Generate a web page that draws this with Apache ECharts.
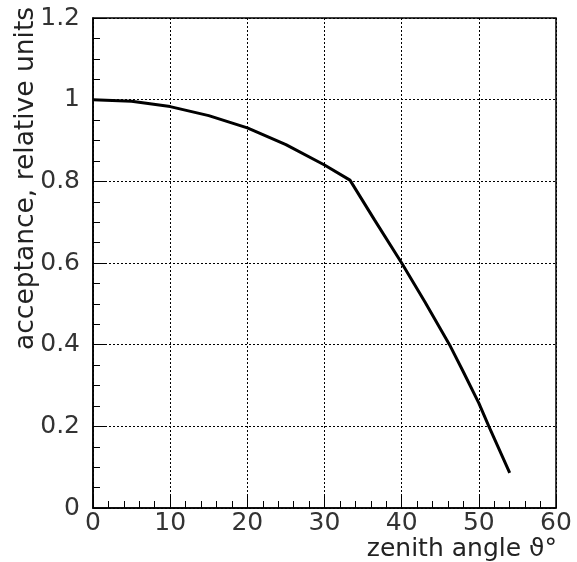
<!DOCTYPE html>
<html>
<head>
<meta charset="utf-8">
<script src="https://cdn.jsdelivr.net/npm/echarts@6/dist/echarts.min.js"></script>
<style>html,body{margin:0;padding:0;background:#fff;}#c{width:577px;height:562px;}</style>
</head>
<body>
<div id="c"></div>
<script>
var zenithAngle = [0, 5, 10, 15, 20, 25, 30, 33.3, 36.5, 40, 43, 46.2, 48, 50, 51.3, 54];
var acceptance  = [1.0, 0.996, 0.983, 0.961, 0.931, 0.890, 0.840, 0.803, 0.705, 0.600, 0.505, 0.400, 0.333, 0.257, 0.200, 0.086];
var xTitle = 'zenith angle \u03D1\u00B0';
var yTitle = 'acceptance, relative units';

var FONT = 'DejaVu Sans';
var chart = echarts.init(document.getElementById('c'), null, {renderer: 'canvas'});
var data = zenithAngle.map(function (x, i) { return [x, acceptance[i]]; });

chart.setOption({
  animation: false,
  backgroundColor: '#fff',
  grid: {left: 93, right: 21, top: 18, bottom: 54, show: true, borderColor: '#000', borderWidth: 1.5, backgroundColor: 'transparent'},
  xAxis: {
    type: 'value', min: 0, max: 60, interval: 10,
    axisLine: {show: true, lineStyle: {color: '#000', width: 1.5}},
    axisTick: {show: true, inside: true, length: 12, lineStyle: {color: '#000'}},
    minorTick: {show: true, splitNumber: 5, length: 7, lineStyle: {color: '#000'}},
    splitLine: {show: true, lineStyle: {color: '#000', type: [2, 2], width: 1}},
    axisLabel: {color: '#333', fontFamily: FONT, fontSize: 25, margin: 3},
    name: ''
  },
  yAxis: {
    type: 'value', min: 0, max: 1.2, interval: 0.2,
    axisLine: {show: true, lineStyle: {color: '#000', width: 1.5}},
    axisTick: {show: true, inside: true, length: 12, lineStyle: {color: '#000'}},
    minorTick: {show: true, splitNumber: 4, length: 7, lineStyle: {color: '#000'}},
    splitLine: {show: true, lineStyle: {color: '#000', type: [2, 2], width: 1}},
    axisLabel: {color: '#333', fontFamily: FONT, fontSize: 25, margin: 13,
      formatter: function (v) { return String(Math.round(v * 10) / 10); }},
    name: ''
  },
  graphic: [
    {type: 'text', x: 557, y: 549, style: {text: xTitle, font: '25px "DejaVu Sans"', fill: '#222', textAlign: 'right', textVerticalAlign: 'middle'}},
    {type: 'text', x: 26, y: 350, rotation: Math.PI / 2, style: {text: yTitle, font: '26.5px "DejaVu Sans"', fill: '#222', textAlign: 'left', textVerticalAlign: 'middle'}}
  ],
  series: [{
    type: 'line', data: data, showSymbol: false, smooth: false,
    lineStyle: {color: '#000', width: 3}
  }]
});
</script>
</body>
</html>
